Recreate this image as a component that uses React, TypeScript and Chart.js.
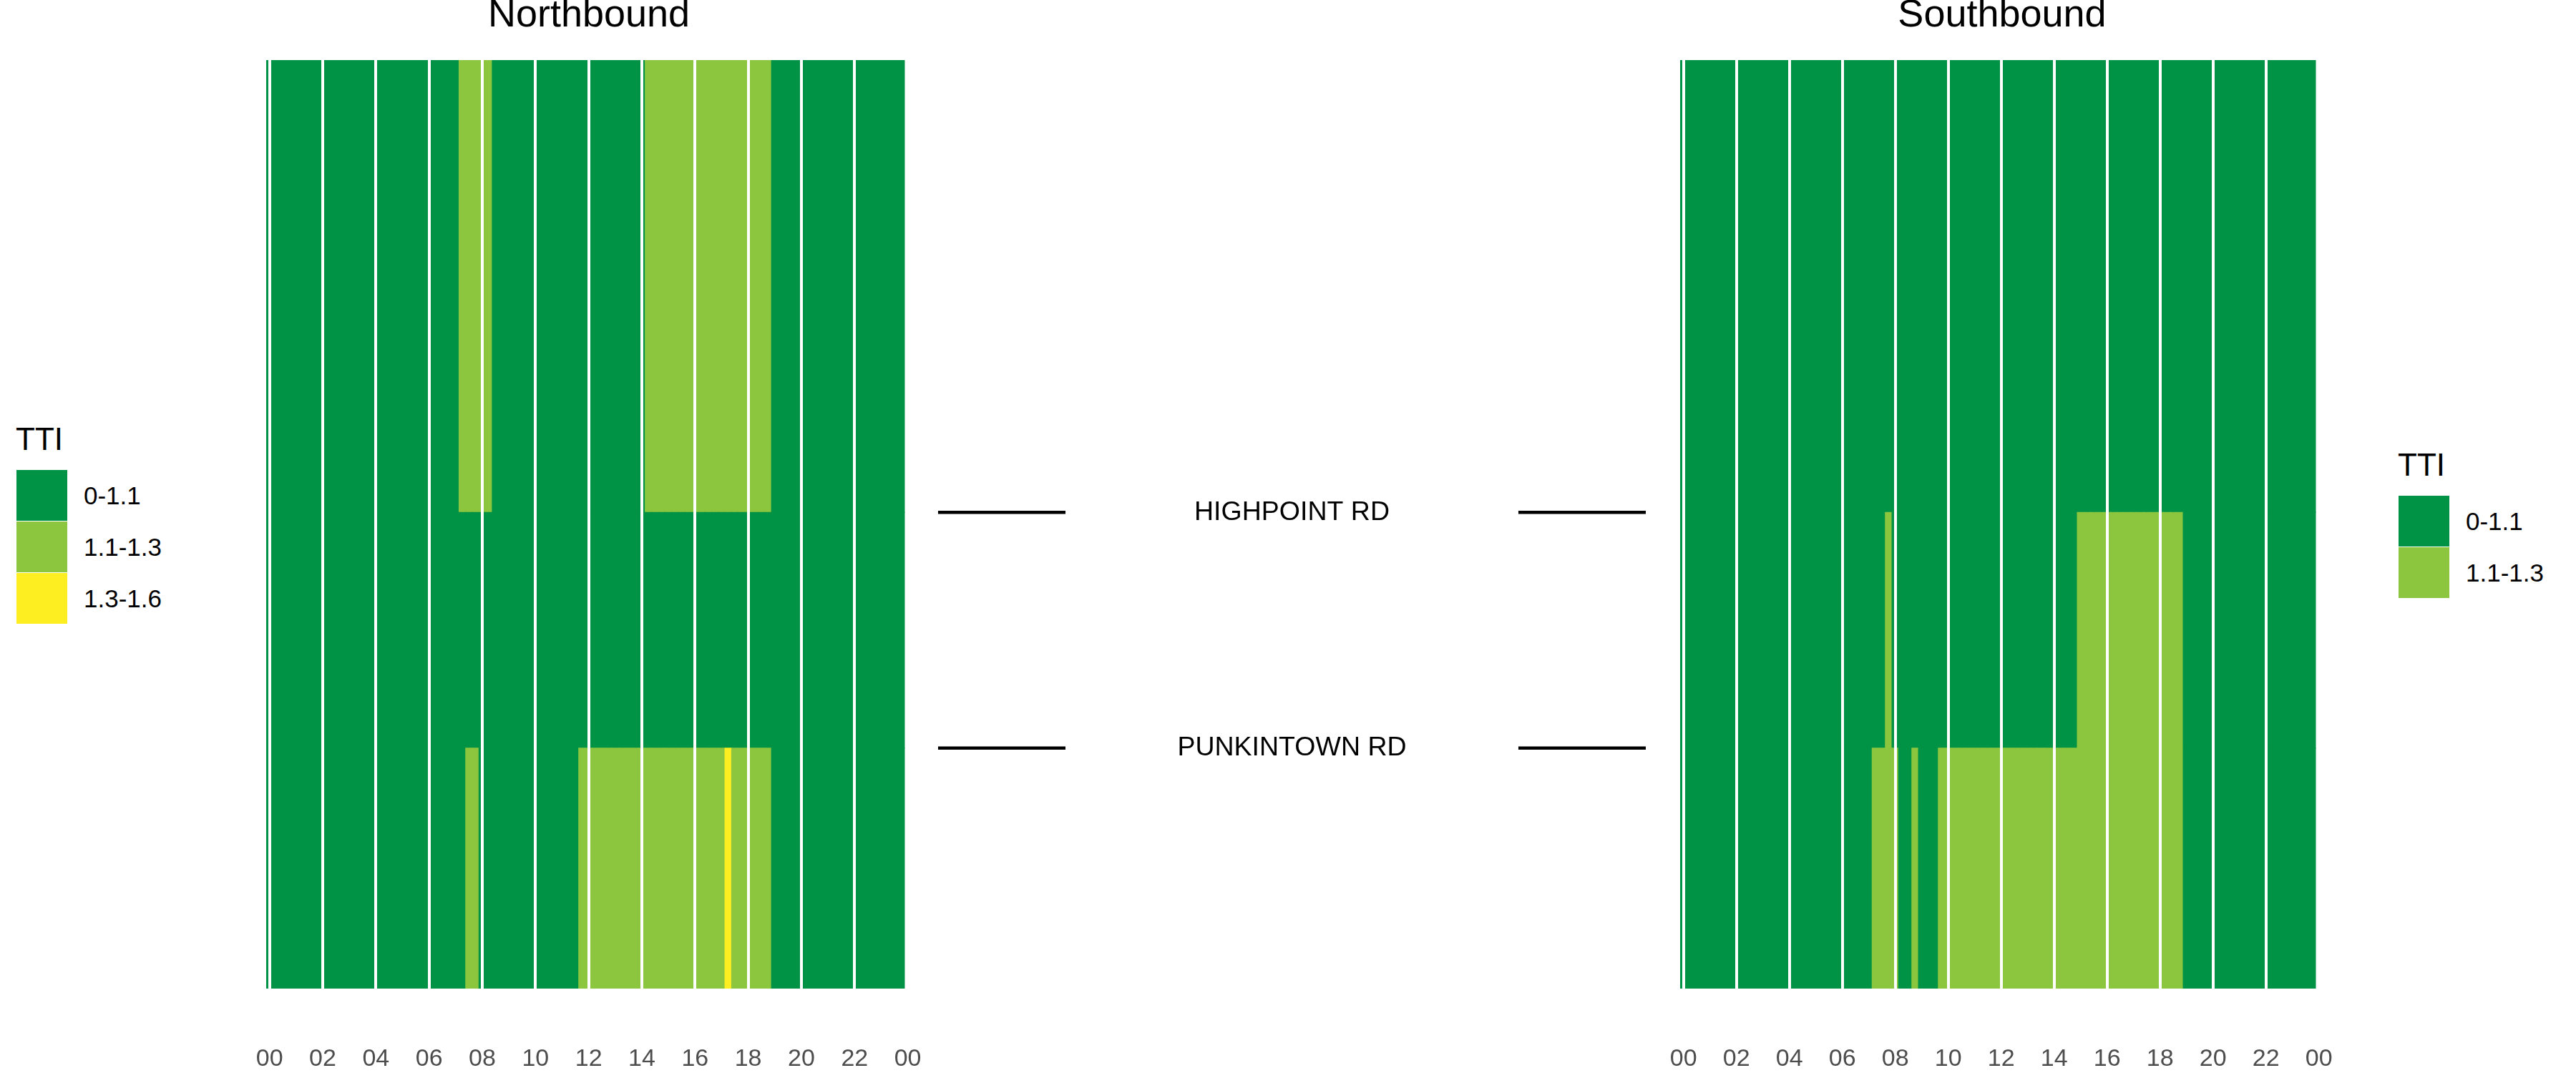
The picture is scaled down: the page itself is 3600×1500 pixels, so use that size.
import React, { useEffect, useRef } from "react";
import { Chart, registerables } from "chart.js";

Chart.register(...registerables);

const FONT = '"Liberation Sans", Arial, Helvetica, sans-serif';

// ---- legend / colour categories ----
const ttiLevels = ["0-1.1", "1.1-1.3", "1.3-1.6"];
const ttiColors = ["#009245", "#8CC63F", "#FCEE21"];

// ---- axis ticks ----
const hourTickLabels = ["00", "02", "04", "06", "08", "10", "12", "14", "16", "18", "20", "22", "00"];

// ---- road segments (bottom to top), lengths in miles ----
const segmentNames = ["South of PUNKINTOWN RD", "PUNKINTOWN RD - HIGHPOINT RD", "North of HIGHPOINT RD"];
const segmentLengths = [1.0, 0.98, 1.88];
const corridorLength = 3.86;
const roadNames = ["PUNKINTOWN RD", "HIGHPOINT RD"];
const roadPositions = [1.0, 1.98];
const connectorSpans = [
  [0, 18],
  [82, 100],
];

// ---- TTI level per 15-minute bin (96 bins, 00:00 .. 23:45), 0 / 1 / 2 = level index ----
const northSouthSegment = [
  0, 0, 0, 0, 0, 0, 0, 0, 0, 0, 0, 0, 0, 0, 0, 0,
  0, 0, 0, 0, 0, 0, 0, 0, 0, 0, 0, 0, 0, 0, 1, 1,
  0, 0, 0, 0, 0, 0, 0, 0, 0, 0, 0, 0, 0, 0, 0, 1,
  1, 1, 1, 1, 1, 1, 1, 1, 1, 1, 1, 1, 1, 1, 1, 1,
  1, 1, 1, 1, 1, 2, 1, 1, 1, 1, 1, 1, 0, 0, 0, 0,
  0, 0, 0, 0, 0, 0, 0, 0, 0, 0, 0, 0, 0, 0, 0, 0,
];
const northMiddleSegment = [
  0, 0, 0, 0, 0, 0, 0, 0, 0, 0, 0, 0, 0, 0, 0, 0,
  0, 0, 0, 0, 0, 0, 0, 0, 0, 0, 0, 0, 0, 0, 0, 0,
  0, 0, 0, 0, 0, 0, 0, 0, 0, 0, 0, 0, 0, 0, 0, 0,
  0, 0, 0, 0, 0, 0, 0, 0, 0, 0, 0, 0, 0, 0, 0, 0,
  0, 0, 0, 0, 0, 0, 0, 0, 0, 0, 0, 0, 0, 0, 0, 0,
  0, 0, 0, 0, 0, 0, 0, 0, 0, 0, 0, 0, 0, 0, 0, 0,
];
const northNorthSegment = [
  0, 0, 0, 0, 0, 0, 0, 0, 0, 0, 0, 0, 0, 0, 0, 0,
  0, 0, 0, 0, 0, 0, 0, 0, 0, 0, 0, 0, 0, 1, 1, 1,
  1, 1, 0, 0, 0, 0, 0, 0, 0, 0, 0, 0, 0, 0, 0, 0,
  0, 0, 0, 0, 0, 0, 0, 0, 0, 1, 1, 1, 1, 1, 1, 1,
  1, 1, 1, 1, 1, 1, 1, 1, 1, 1, 1, 1, 0, 0, 0, 0,
  0, 0, 0, 0, 0, 0, 0, 0, 0, 0, 0, 0, 0, 0, 0, 0,
];
const southSouthSegment = [
  0, 0, 0, 0, 0, 0, 0, 0, 0, 0, 0, 0, 0, 0, 0, 0,
  0, 0, 0, 0, 0, 0, 0, 0, 0, 0, 0, 0, 0, 1, 1, 1,
  1, 0, 0, 1, 0, 0, 0, 1, 1, 1, 1, 1, 1, 1, 1, 1,
  1, 1, 1, 1, 1, 1, 1, 1, 1, 1, 1, 1, 1, 1, 1, 1,
  1, 1, 1, 1, 1, 1, 1, 1, 1, 1, 1, 1, 0, 0, 0, 0,
  0, 0, 0, 0, 0, 0, 0, 0, 0, 0, 0, 0, 0, 0, 0, 0,
];
const southMiddleSegment = [
  0, 0, 0, 0, 0, 0, 0, 0, 0, 0, 0, 0, 0, 0, 0, 0,
  0, 0, 0, 0, 0, 0, 0, 0, 0, 0, 0, 0, 0, 0, 0, 1,
  0, 0, 0, 0, 0, 0, 0, 0, 0, 0, 0, 0, 0, 0, 0, 0,
  0, 0, 0, 0, 0, 0, 0, 0, 0, 0, 0, 0, 1, 1, 1, 1,
  1, 1, 1, 1, 1, 1, 1, 1, 1, 1, 1, 1, 0, 0, 0, 0,
  0, 0, 0, 0, 0, 0, 0, 0, 0, 0, 0, 0, 0, 0, 0, 0,
];
const southNorthSegment = [
  0, 0, 0, 0, 0, 0, 0, 0, 0, 0, 0, 0, 0, 0, 0, 0,
  0, 0, 0, 0, 0, 0, 0, 0, 0, 0, 0, 0, 0, 0, 0, 0,
  0, 0, 0, 0, 0, 0, 0, 0, 0, 0, 0, 0, 0, 0, 0, 0,
  0, 0, 0, 0, 0, 0, 0, 0, 0, 0, 0, 0, 0, 0, 0, 0,
  0, 0, 0, 0, 0, 0, 0, 0, 0, 0, 0, 0, 0, 0, 0, 0,
  0, 0, 0, 0, 0, 0, 0, 0, 0, 0, 0, 0, 0, 0, 0, 0,
];

const northboundLevels = [northSouthSegment, northMiddleSegment, northNorthSegment];
const southboundLevels = [southSouthSegment, southMiddleSegment, southNorthSegment];

// category axis: 15-minute bins 00:00 .. 24:00 (the last one only carries the closing tick)
const binLabels: string[] = [];
for (let i = 0; i <= 96; i++) {
  const h = Math.floor(i / 4);
  const m = (i % 4) * 15;
  binLabels.push(`${String(h).padStart(2, "0")}:${String(m).padStart(2, "0")}`);
}

type HeatProps = {
  title: string;
  levels: number[][];
  left: number;
  width: number;
  padLeft: number;
  padRight: number;
};

function HeatPanel({ title, levels, left, width, padLeft, padRight }: HeatProps) {
  const ref = useRef<HTMLCanvasElement | null>(null);
  useEffect(() => {
    if (!ref.current) return;
    const chart = new Chart(ref.current, {
      type: "bar",
      data: {
        labels: binLabels,
        datasets: segmentNames.map((name, s) => ({
          label: name,
          data: binLabels.map((_, i) => (i < levels[s].length ? segmentLengths[s] : null)),
          backgroundColor: (ctx: any) => {
            const lv = levels[s][ctx.dataIndex];
            return lv === undefined ? "rgba(0,0,0,0)" : ttiColors[lv];
          },
          borderWidth: 0,
          barPercentage: 1,
          categoryPercentage: 1,
          inflateAmount: 0.5,
        })),
      },
      options: {
        animation: false,
        responsive: false,
        maintainAspectRatio: false,
        devicePixelRatio: 1,
        events: [],
        layout: { padding: { left: padLeft, right: padRight, top: 0, bottom: 0 } },
        plugins: {
          legend: { display: false },
          tooltip: { enabled: false },
          title: {
            display: true,
            text: title,
            color: "#000000",
            font: { family: FONT, size: 54, weight: "normal", lineHeight: "44px" },
            padding: { top: 0, bottom: 40 },
          },
        },
        scales: {
          x: {
            stacked: true,
            offset: true,
            border: { display: false },
            grid: {
              offset: false,
              z: 1,
              drawTicks: false,
              lineWidth: 4,
              color: (ctx: any) => (ctx.index % 8 === 0 ? "#FFFFFF" : "rgba(0,0,0,0)"),
            },
            ticks: {
              autoSkip: false,
              maxRotation: 0,
              minRotation: 0,
              padding: 78,
              color: "#4D4D4D",
              font: { family: FONT, size: 34 },
              callback: (_v: any, i: number) => (i % 8 === 0 ? hourTickLabels[i / 8] : ""),
            },
            afterFit: (scale: any) => {
              scale.height = 118;
            },
          },
          y: {
            stacked: true,
            display: false,
            min: 0,
            max: corridorLength,
          },
        },
      },
    } as any);
    return () => chart.destroy();
  }, []);
  return (
    <canvas
      ref={ref}
      width={width}
      height={1500}
      style={{ position: "absolute", left, top: 0, width, height: 1500, display: "block" }}
    />
  );
}

const roadLabelPlugin = {
  id: "roadLabels",
  afterDatasetsDraw(chart: any) {
    const { ctx, scales } = chart;
    ctx.save();
    ctx.font = `37.5px ${FONT}`;
    ctx.fillStyle = "#000000";
    ctx.textAlign = "center";
    ctx.textBaseline = "middle";
    roadNames.forEach((name, i) => {
      ctx.fillText(name, scales.x.getPixelForValue(50), scales.y.getPixelForValue(roadPositions[i]));
    });
    ctx.restore();
  },
};

function RoadPanel({ left, width }: { left: number; width: number }) {
  const ref = useRef<HTMLCanvasElement | null>(null);
  useEffect(() => {
    if (!ref.current) return;
    const datasets: any[] = [];
    roadNames.forEach((name, i) => {
      connectorSpans.forEach((span) => {
        datasets.push({
          label: name,
          data: [
            { x: span[0], y: roadPositions[i] },
            { x: span[1], y: roadPositions[i] },
          ],
          borderColor: "#000000",
          borderWidth: 4.5,
          borderCapStyle: "butt",
          pointRadius: 0,
          fill: false,
        });
      });
    });
    const chart = new Chart(ref.current, {
      type: "line",
      data: { datasets },
      options: {
        animation: false,
        responsive: false,
        maintainAspectRatio: false,
        devicePixelRatio: 1,
        events: [],
        layout: { padding: { left: 0, right: 0, top: 84, bottom: 118 } },
        plugins: { legend: { display: false }, tooltip: { enabled: false }, title: { display: false } },
        scales: {
          x: { type: "linear", min: 0, max: 100, display: false },
          y: { type: "linear", min: 0, max: corridorLength, display: false },
        },
      },
      plugins: [roadLabelPlugin],
    } as any);
    return () => chart.destroy();
  }, []);
  return (
    <canvas
      ref={ref}
      width={width}
      height={1500}
      style={{ position: "absolute", left, top: 0, width, height: 1500, display: "block" }}
    />
  );
}

function Legend({ left, titleTop, keysTop, count }: { left: number; titleTop: number; keysTop: number; count: number }) {
  return (
    <div style={{ position: "absolute", left: 0, top: 0 }}>
      <div
        style={{
          position: "absolute",
          left: left - 1,
          top: titleTop,
          fontFamily: FONT,
          fontSize: 44,
          lineHeight: "44px",
          color: "#000",
          whiteSpace: "nowrap",
        }}
      >
        TTI
      </div>
      {ttiLevels.slice(0, count).map((lab, i) => (
        <React.Fragment key={lab}>
          <div
            style={{
              position: "absolute",
              left,
              top: keysTop + i * 72,
              width: 71,
              height: 71,
              background: ttiColors[i],
            }}
          />
          <div
            style={{
              position: "absolute",
              left: left + 94,
              top: keysTop + i * 72,
              height: 71,
              display: "flex",
              alignItems: "center",
              fontFamily: FONT,
              fontSize: 35,
              lineHeight: "35px",
              color: "#000",
              whiteSpace: "nowrap",
            }}
          >
            {lab}
          </div>
        </React.Fragment>
      ))}
    </div>
  );
}

export default function App() {
  return (
    <div
      style={{
        position: "absolute",
        left: 0,
        top: 0,
        width: 3600,
        height: 1500,
        background: "#ffffff",
        overflow: "hidden",
      }}
    >
      <Legend left={23} titleTop={592} keysTop={657} count={3} />
      <HeatPanel title="Northbound" levels={northboundLevels} left={268} width={1098} padLeft={104} padRight={92} />
      <RoadPanel left={1311} width={989} />
      <HeatPanel title="Southbound" levels={southboundLevels} left={2244} width={1094} padLeft={104} padRight={90} />
      <Legend left={3352} titleTop={628} keysTop={693} count={2} />
    </div>
  );
}
